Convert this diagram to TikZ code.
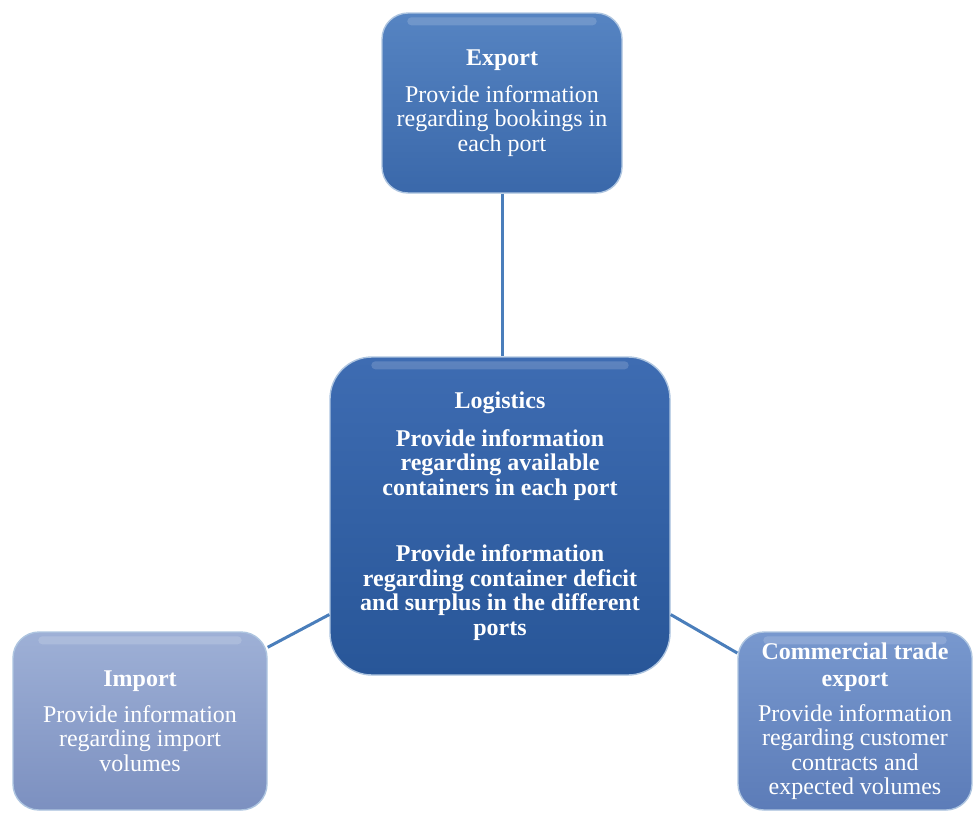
\documentclass[tikz,border=0pt]{standalone}
\usepackage{fontspec}
\setmainfont{Liberation Serif}
\usetikzlibrary{shadings}

\definecolor{linkblue}{RGB}{74,126,187}
\definecolor{exptop}{RGB}{86,132,194}
\definecolor{expbot}{RGB}{58,104,170}
\definecolor{logtop}{RGB}{62,108,178}
\definecolor{logbot}{RGB}{40,86,152}
\definecolor{imptop}{RGB}{158,176,214}
\definecolor{impbot}{RGB}{124,144,192}
\definecolor{comtop}{RGB}{120,152,206}
\definecolor{combot}{RGB}{92,124,184}

\tikzset{
  card/.style={rounded corners=#1, align=center, text=white, inner sep=0pt,
    draw=white!55!linkblue, line width=1.4pt,
    font=\fontsize{24}{24.5}\selectfont},
  link/.style={draw=linkblue, line width=3pt},
  gloss/.style={white, opacity=0.16, rounded corners=4pt}
}

\begin{document}
\begin{tikzpicture}[x=1pt,y=-1pt]
\useasboundingbox (0,0) rectangle (973,814);

\node[card=26pt, minimum width=240pt, minimum height=180pt,
      top color=exptop, bottom color=expbot] (exp) at (502,103)
  {\textbf{Export}\\[12pt]Provide information\\regarding bookings in\\each port};

\node[card=42pt, minimum width=340pt, minimum height=318pt,
      top color=logtop, bottom color=logbot] (log) at (500,516)
  {\textbf{Logistics}\\[13pt]
   \textbf{Provide information}\\\textbf{regarding available}\\\textbf{containers in each port}\\[42pt]
   \textbf{Provide information}\\\textbf{regarding container deficit}\\\textbf{and surplus in the different}\\\textbf{ports}};

\node[card=26pt, minimum width=254pt, minimum height=178pt,
      top color=imptop, bottom color=impbot] (imp) at (140,721)
  {\textbf{Import}\\[11pt]Provide information\\regarding import\\volumes};

\node[card=26pt, minimum width=234pt, minimum height=178pt,
      top color=comtop, bottom color=combot] (com) at (855,721)
  {\textbf{Commercial trade}\\[3pt]\textbf{export}\\[10pt]Provide information\\regarding customer\\contracts and\\expected volumes};

% soft glossy band just inside the top edge of each card
\foreach \n/\r in {exp/26,imp/26,com/26,log/42}{
  \fill[gloss] ([xshift=\r pt,yshift=-5pt]\n.north west) rectangle ([xshift=-\r pt,yshift=-13pt]\n.north east);
}

% connectors between the cards
\draw[link] (exp.south) -- (exp.south |- log.north);
\draw[link] (log.210) -- (imp.30);
\draw[link] (log.-30) -- (com.150);
\end{tikzpicture}
\end{document}
